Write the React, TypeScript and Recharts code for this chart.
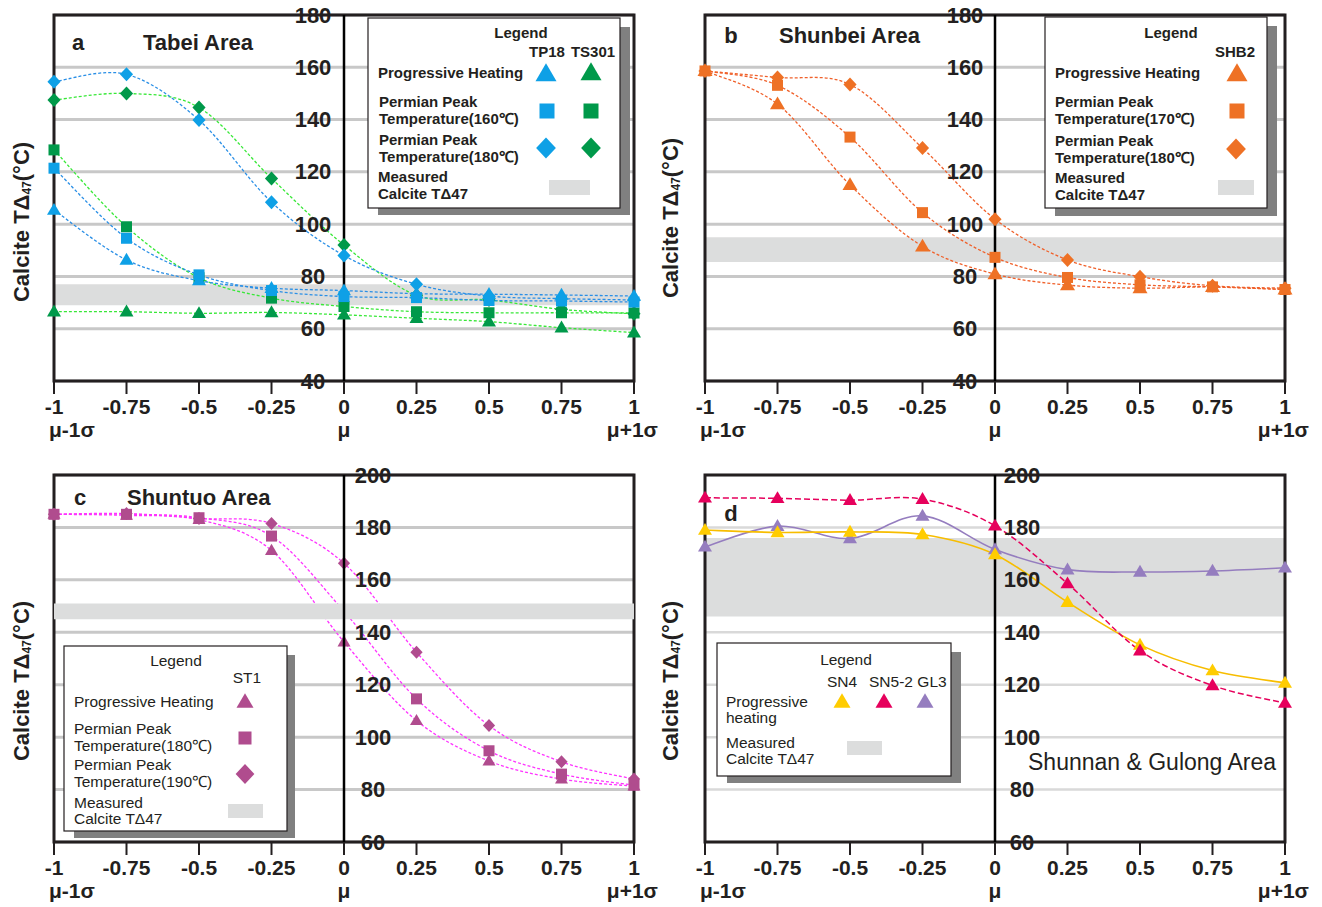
import React from 'react';
import { LineChart, Line, XAxis, YAxis, CartesianGrid, ReferenceArea, ReferenceLine } from 'recharts';

const FONT = "'Liberation Sans', Arial, Helvetica, sans-serif";
const INK = '#231f20';

// ---------- shared axes ----------
const X_VALUES = [-1, -0.75, -0.5, -0.25, 0, 0.25, 0.5, 0.75, 1];
const X_SUB_LABELS: Record<string, string> = { '-1': 'μ-1σ', '0': 'μ', '1': 'μ+1σ' };
const Y_TICKS_AB = [40, 60, 80, 100, 120, 140, 160, 180];
const Y_TICKS_CD = [60, 80, 100, 120, 140, 160, 180, 200];

// ---------- panel a : Tabei ----------
const TP18_PH = [105.4, 86.3, 78.4, 75.5, 74.6, 73.4, 73.2, 72.9, 72.5];
const TP18_P160 = [121.4, 94.6, 80.6, 74.6, 72.3, 71.9, 70.8, 70.6, 70.2];
const TP18_P180 = [154.5, 157.3, 139.8, 108.4, 88.0, 77.0, 72.5, 71.5, 71.0];
const TS301_PH = [66.5, 66.5, 65.9, 66.2, 65.3, 64.0, 62.7, 60.4, 58.5];
const TS301_P160 = [128.4, 99.0, 79.5, 71.7, 68.5, 66.5, 66.1, 66.1, 66.0];
const TS301_P180 = [147.5, 150.0, 144.6, 117.5, 92.0, 72.8, 71.0, 67.4, 65.7];
const BAND_A = [69, 77];

// ---------- panel b : Shunbei ----------
const SHB2_PH = [158.6, 145.9, 115.0, 91.5, 80.9, 76.7, 75.5, 76.0, 75.0];
const SHB2_P170 = [158.6, 153.1, 133.3, 104.4, 87.3, 79.6, 76.8, 76.0, 75.0];
const SHB2_P180 = [158.6, 156.1, 153.4, 129.1, 101.9, 86.3, 79.9, 76.4, 75.5];
const BAND_B = [85.5, 95];

// ---------- panel c : Shuntuo ----------
const ST1_PH = [185.0, 184.6, 183.0, 171.2, 136.3, 106.3, 90.9, 84.0, 81.3];
const ST1_P180 = [185.0, 185.0, 183.7, 176.7, 148.0, 114.6, 94.8, 85.9, 81.7];
const ST1_P190 = [185.0, 185.3, 183.4, 181.5, 166.3, 132.4, 104.4, 90.6, 84.0];
const BAND_C = [145, 151];

// ---------- panel d : Shunnan & Gulong ----------
const SN4_PH = [179.0, 178.1, 178.3, 177.3, 169.7, 151.5, 135.2, 125.4, 120.7];
const SN52_PH = [191.3, 191.1, 190.4, 190.8, 180.6, 158.6, 133.0, 119.7, 113.0];
const GL3_PH = [172.6, 180.5, 175.8, 184.4, 171.6, 163.9, 163.0, 163.4, 164.6];
const BAND_D = [146, 176];

// ---------- smooth curve (Catmull-Rom like) ----------
const smoothCurve = (context: any) => {
  let pts: number[][] = [];
  return {
    areaStart() {},
    areaEnd() {},
    lineStart() {
      pts = [];
    },
    point(x: number, y: number) {
      pts.push([+x, +y]);
    },
    lineEnd() {
      const n = pts.length;
      if (!n) return;
      context.moveTo(pts[0][0], pts[0][1]);
      for (let i = 0; i < n - 1; i++) {
        const p0 = pts[i - 1] || pts[i];
        const p1 = pts[i];
        const p2 = pts[i + 1];
        const p3 = pts[i + 2] || p2;
        context.bezierCurveTo(
          p1[0] + (p2[0] - p0[0]) / 6,
          p1[1] + (p2[1] - p0[1]) / 6,
          p2[0] - (p3[0] - p1[0]) / 6,
          p2[1] - (p3[1] - p1[1]) / 6,
          p2[0],
          p2[1]
        );
      }
    },
  };
};

type Shape = 'triangle' | 'square' | 'diamond';

function Marker({ shape, cx, cy, size, fill }: { shape: Shape; cx: number; cy: number; size: number; fill: string }) {
  if (shape === 'triangle') {
    const h = size * 0.85;
    return (
      <polygon
        points={`${cx},${cy - h * 0.6} ${cx - size / 2},${cy + h * 0.4} ${cx + size / 2},${cy + h * 0.4}`}
        fill={fill}
      />
    );
  }
  if (shape === 'square') {
    return <rect x={cx - size / 2} y={cy - size / 2} width={size} height={size} fill={fill} />;
  }
  const w = size * 0.47;
  return <polygon points={`${cx},${cy - size / 2} ${cx + w},${cy} ${cx},${cy + size / 2} ${cx - w},${cy}`} fill={fill} />;
}

const makeDot = (shape: Shape, fill: string, size: number) => (props: any) => {
  const { cx, cy, index } = props;
  if (cx == null || cy == null) return <g key={`e-${index}`} />;
  return (
    <g key={`m-${index}`}>
      <Marker shape={shape} cx={cx} cy={cy} size={size} fill={fill} />
    </g>
  );
};

type SeriesCfg = {
  key: string;
  values: number[];
  shape: Shape;
  fill: string;
  stroke: string;
  dash?: string;
  width?: number;
  size: number;
};

const XTick = (props: any) => {
  const { x, y, payload } = props;
  const v = payload.value;
  const key = String(v);
  const sub = X_SUB_LABELS[key];
  let anchor: any = 'middle';
  let sx = x;
  if (key === '-1') {
    anchor = 'start';
    sx = x - 5;
  } else if (key === '1') {
    anchor = 'end';
    sx = x + 24;
  }
  return (
    <g fontFamily={FONT} fontWeight="bold" fill={INK}>
      <text x={x} y={y} dy="0.71em" textAnchor="middle" fontSize={21} fill={INK}>
        {key}
      </text>
      {sub && (
        <text x={sx} y={y + 23} dy="0.71em" textAnchor={anchor} fontSize={21} fill={INK}>
          {sub}
        </text>
      )}
    </g>
  );
};

const PLOT_LEFT = 54;
const PLOT_W = 580;

const makeYTick = (offset: number) => (props: any) => {
  const { y, payload } = props;
  return (
    <text
      x={PLOT_LEFT + PLOT_W / 2 + offset}
      y={y}
      textAnchor="middle"
      dominantBaseline="central"
      fontFamily={FONT}
      fontWeight="bold"
      fontSize={22}
      fill={INK}
    >
      {payload.value}
    </text>
  );
};

function Panel({
  left,
  top,
  height,
  bottom,
  yDomain,
  yTicks,
  band,
  bandOnTop,
  series,
  gridColor,
  gridWidth,
  yLabelOffset,
}: {
  left: number;
  top: number;
  height: number;
  bottom: number;
  yDomain: number[];
  yTicks: number[];
  band: number[];
  bandOnTop: boolean;
  series: SeriesCfg[];
  gridColor: string;
  gridWidth: number;
  yLabelOffset: number;
}) {
  const data = X_VALUES.map((x, i) => {
    const row: any = { x };
    series.forEach((s) => {
      row[s.key] = s.values[i];
    });
    return row;
  });
  const bandEl = (
    <ReferenceArea
      key="band"
      x1={-1}
      x2={1}
      y1={band[0]}
      y2={band[1]}
      fill="#dcdddd"
      fillOpacity={1}
      stroke="none"
      ifOverflow="visible"
      zIndex={bandOnTop ? 1500 : -50}
    />
  );
  return (
    <div style={{ position: 'absolute', left, top }}>
      <LineChart width={660} height={height} data={data} margin={{ top: 15, right: 26, left: 0, bottom }}>
        <CartesianGrid vertical={false} stroke={gridColor} strokeWidth={gridWidth} />
        <XAxis
          dataKey="x"
          type="number"
          domain={[-1, 1]}
          ticks={X_VALUES}
          interval={0}
          axisLine={false}
          tickLine={{ stroke: INK, strokeWidth: 2 }}
          tickSize={13}
          tickMargin={5}
          height={60}
          tick={XTick}
        />
        <YAxis
          type="number"
          domain={yDomain}
          ticks={yTicks}
          interval={0}
          width={PLOT_LEFT}
          axisLine={false}
          tickLine={false}
          tick={makeYTick(yLabelOffset)}
        />
        {!bandOnTop && bandEl}
        <ReferenceArea
          x1={-1}
          x2={1}
          y1={yDomain[0]}
          y2={yDomain[1]}
          fill="none"
          fillOpacity={0}
          stroke={INK}
          strokeWidth={3}
          zIndex={-40}
        />
        {!bandOnTop && <ReferenceLine x={0} stroke="#000" strokeWidth={2.5} zIndex={-30} />}
        {series.map((s) => (
          <Line
            key={s.key}
            dataKey={s.key}
            type={smoothCurve as any}
            stroke={s.stroke}
            strokeWidth={s.width ?? 1.3}
            strokeDasharray={s.dash}
            dot={makeDot(s.shape, s.fill, s.size)}
            activeDot={false}
            isAnimationActive={false}
          />
        ))}
        {bandOnTop && bandEl}
        {bandOnTop && <ReferenceLine x={0} stroke="#000" strokeWidth={2.5} zIndex={1510} />}
      </LineChart>
    </div>
  );
}

const BLUE = '#0ea0e6';
const BLUE_L = '#2a8fe6';
const GREEN = '#00994a';
const GREEN_L = '#38e838';
const ORANGE = '#ee7125';
const ORANGE_L = '#f0602a';
const MAG = '#b04c8e';
const MAG_L = '#ff33ff';
const YEL = '#ffcc00';
const YEL_L = '#f7bd00';
const PINK = '#e6005c';
const PURPLE = '#957dbf';

const DOTTED = '3 2';

const SERIES_A: SeriesCfg[] = [
  { key: 'ts301_ph', values: TS301_PH, shape: 'triangle', fill: GREEN, stroke: GREEN_L, dash: DOTTED, size: 14 },
  { key: 'ts301_160', values: TS301_P160, shape: 'square', fill: GREEN, stroke: GREEN_L, dash: DOTTED, size: 11 },
  { key: 'ts301_180', values: TS301_P180, shape: 'diamond', fill: GREEN, stroke: GREEN_L, dash: DOTTED, size: 14 },
  { key: 'tp18_ph', values: TP18_PH, shape: 'triangle', fill: BLUE, stroke: BLUE_L, dash: DOTTED, size: 14 },
  { key: 'tp18_160', values: TP18_P160, shape: 'square', fill: BLUE, stroke: BLUE_L, dash: DOTTED, size: 11 },
  { key: 'tp18_180', values: TP18_P180, shape: 'diamond', fill: BLUE, stroke: BLUE_L, dash: DOTTED, size: 14 },
];

const SERIES_B: SeriesCfg[] = [
  { key: 'shb2_ph', values: SHB2_PH, shape: 'triangle', fill: ORANGE, stroke: ORANGE_L, dash: DOTTED, size: 15 },
  { key: 'shb2_170', values: SHB2_P170, shape: 'square', fill: ORANGE, stroke: ORANGE_L, dash: DOTTED, size: 11 },
  { key: 'shb2_180', values: SHB2_P180, shape: 'diamond', fill: ORANGE, stroke: ORANGE_L, dash: DOTTED, size: 14 },
];

const SERIES_C: SeriesCfg[] = [
  { key: 'st1_ph', values: ST1_PH, shape: 'triangle', fill: MAG, stroke: MAG_L, dash: DOTTED, size: 13 },
  { key: 'st1_180', values: ST1_P180, shape: 'square', fill: MAG, stroke: MAG_L, dash: DOTTED, size: 11 },
  { key: 'st1_190', values: ST1_P190, shape: 'diamond', fill: MAG, stroke: MAG_L, dash: DOTTED, size: 13 },
];

const SERIES_D: SeriesCfg[] = [
  { key: 'gl3', values: GL3_PH, shape: 'triangle', fill: PURPLE, stroke: PURPLE, width: 1.6, size: 14 },
  { key: 'sn4', values: SN4_PH, shape: 'triangle', fill: YEL, stroke: YEL_L, width: 1.6, size: 14 },
  { key: 'sn52', values: SN52_PH, shape: 'triangle', fill: PINK, stroke: PINK, dash: '6 3', width: 1.5, size: 14 },
];

function YTitle({ x, y }: { x: number; y: number }) {
  return (
    <text
      transform={`translate(${x},${y}) rotate(-90)`}
      textAnchor="middle"
      dominantBaseline="central"
      fontFamily={FONT}
      fontWeight="bold"
      fontSize={22}
      fill={INK}
    >
      Calcite TΔ
      <tspan dy={6} fontSize={12}>
        47
      </tspan>
      <tspan dy={-6}>(°C)</tspan>
    </text>
  );
}

const T = (p: any) => <text dominantBaseline="central" {...p} />;

function Overlay() {
  return (
    <svg
      width={1322}
      height={907}
      style={{ position: 'absolute', left: 0, top: 0, pointerEvents: 'none' }}
      fontFamily={FONT}
    >
      <g fontWeight="bold" fontSize={22} fill={INK}>
        <T x={78} y={42} textAnchor="middle">a</T>
        <T x={143} y={42}>Tabei Area</T>
        <T x={731} y={35} textAnchor="middle">b</T>
        <T x={779} y={35}>Shunbei Area</T>
        <T x={80} y={497} textAnchor="middle">c</T>
        <T x={127} y={497}>Shuntuo Area</T>
        <T x={731} y={513} textAnchor="middle">d</T>
      </g>
      <T x={1028} y={762} fontSize={23} fill={INK}>
        Shunnan &amp; Gulong Area
      </T>
      <YTitle x={21} y={222} />
      <YTitle x={670} y={218} />
      <YTitle x={21} y={681} />
      <YTitle x={670} y={681} />

      {/* legend a */}
      <g fontWeight="bold" fontSize={15} fill={INK}>
        <rect x={378} y={27} width={252} height={188} fill="#808080" />
        <rect x={368} y={18} width={252} height={190} fill="#fff" stroke={INK} strokeWidth={1.2} />
        <T x={521} y={32} textAnchor="middle">Legend</T>
        <T x={547} y={51} textAnchor="middle">TP18</T>
        <T x={593} y={51} textAnchor="middle">TS301</T>
        <T x={378} y={72}>Progressive Heating</T>
        <T x={379} y={101}>Permian Peak</T>
        <T x={379} y={118}>Temperature(160℃)</T>
        <T x={379} y={139}>Permian Peak</T>
        <T x={379} y={156}>Temperature(180℃)</T>
        <T x={378} y={176}>Measured</T>
        <T x={378} y={193}>Calcite TΔ47</T>
        <Marker shape="triangle" cx={546} cy={74} size={21} fill={BLUE} />
        <Marker shape="triangle" cx={591} cy={73} size={21} fill={GREEN} />
        <Marker shape="square" cx={547} cy={111} size={15} fill={BLUE} />
        <Marker shape="square" cx={591} cy={111} size={15} fill={GREEN} />
        <Marker shape="diamond" cx={546} cy={148} size={21} fill={BLUE} />
        <Marker shape="diamond" cx={591} cy={148} size={21} fill={GREEN} />
        <rect x={549} y={180} width={41} height={15} fill="#dcdddd" />
      </g>

      {/* legend b */}
      <g fontWeight="bold" fontSize={15} fill={INK}>
        <rect x={1055} y={26} width={222} height={190} fill="#808080" />
        <rect x={1045} y={17} width={222} height={191} fill="#fff" stroke={INK} strokeWidth={1.2} />
        <T x={1171} y={32} textAnchor="middle">Legend</T>
        <T x={1235} y={51} textAnchor="middle">SHB2</T>
        <T x={1055} y={72}>Progressive Heating</T>
        <T x={1055} y={101}>Permian Peak</T>
        <T x={1055} y={118}>Temperature(170℃)</T>
        <T x={1055} y={140}>Permian Peak</T>
        <T x={1055} y={157}>Temperature(180℃)</T>
        <T x={1055} y={177}>Measured</T>
        <T x={1055} y={194}>Calcite TΔ47</T>
        <Marker shape="triangle" cx={1237} cy={74} size={21} fill={ORANGE} />
        <Marker shape="square" cx={1237} cy={111} size={15} fill={ORANGE} />
        <Marker shape="diamond" cx={1236} cy={149} size={21} fill={ORANGE} />
        <rect x={1218} y={180} width={36} height={15} fill="#dcdddd" />
      </g>

      {/* legend c */}
      <g fontSize={15.5} fill={INK}>
        <rect x={74} y={655} width={221} height={183} fill="#808080" />
        <rect x={64} y={646} width={223} height={185} fill="#fff" stroke={INK} strokeWidth={1.2} />
        <T x={176} y={660} textAnchor="middle">Legend</T>
        <T x={247} y={677} textAnchor="middle">ST1</T>
        <T x={74} y={701}>Progressive Heating</T>
        <T x={74} y={728}>Permian Peak</T>
        <T x={74} y={745}>Temperature(180℃)</T>
        <T x={74} y={764}>Permian Peak</T>
        <T x={74} y={781}>Temperature(190℃)</T>
        <T x={74} y={802}>Measured</T>
        <T x={74} y={818}>Calcite TΔ47</T>
        <Marker shape="triangle" cx={245} cy={702} size={17} fill={MAG} />
        <Marker shape="square" cx={245} cy={738} size={13} fill={MAG} />
        <Marker shape="diamond" cx={245} cy={774} size={20} fill={MAG} />
        <rect x={228} y={804} width={35} height={14} fill="#dcdddd" />
      </g>

      {/* legend d */}
      <g fontSize={15.5} fill={INK}>
        <rect x={727} y={652} width={234} height={131} fill="#808080" />
        <rect x={717} y={643} width={234} height={133} fill="#fff" stroke={INK} strokeWidth={1.2} />
        <T x={846} y={659} textAnchor="middle">Legend</T>
        <T x={842} y={681} textAnchor="middle">SN4</T>
        <T x={891} y={681} textAnchor="middle">SN5-2</T>
        <T x={932} y={681} textAnchor="middle">GL3</T>
        <T x={726} y={701}>Progressive</T>
        <T x={726} y={717}>heating</T>
        <T x={726} y={742}>Measured</T>
        <T x={726} y={758}>Calcite TΔ47</T>
        <Marker shape="triangle" cx={842} cy={702} size={17} fill={YEL} />
        <Marker shape="triangle" cx={884} cy={702} size={17} fill={PINK} />
        <Marker shape="triangle" cx={925} cy={702} size={17} fill={PURPLE} />
        <rect x={847} y={741} width={35} height={14} fill="#dcdddd" />
      </g>
    </svg>
  );
}

export default function App() {
  return (
    <div style={{ position: 'absolute', left: 0, top: 0, width: 1322, height: 907, background: '#fff', overflow: 'hidden' }}>
      <Panel
        left={0}
        top={0}
        height={447}
        bottom={6}
        yDomain={[40, 180]}
        yTicks={Y_TICKS_AB}
        band={BAND_A}
        bandOnTop={false}
        series={SERIES_A}
        gridColor="#c8c8c8"
        gridWidth={3}
        yLabelOffset={-31}
      />
      <Panel
        left={651}
        top={0}
        height={447}
        bottom={6}
        yDomain={[40, 180]}
        yTicks={Y_TICKS_AB}
        band={BAND_B}
        bandOnTop={false}
        series={SERIES_B}
        gridColor="#c8c8c8"
        gridWidth={3}
        yLabelOffset={-30}
      />
      <Panel
        left={0}
        top={460}
        height={447}
        bottom={5}
        yDomain={[60, 200]}
        yTicks={Y_TICKS_CD}
        band={BAND_C}
        bandOnTop={true}
        series={SERIES_C}
        gridColor="#c8c8c8"
        gridWidth={3}
        yLabelOffset={29}
      />
      <Panel
        left={651}
        top={460}
        height={447}
        bottom={5}
        yDomain={[60, 200]}
        yTicks={Y_TICKS_CD}
        band={BAND_D}
        bandOnTop={false}
        series={SERIES_D}
        gridColor="#d9d9d9"
        gridWidth={2.5}
        yLabelOffset={27}
      />
      <Overlay />
    </div>
  );
}
